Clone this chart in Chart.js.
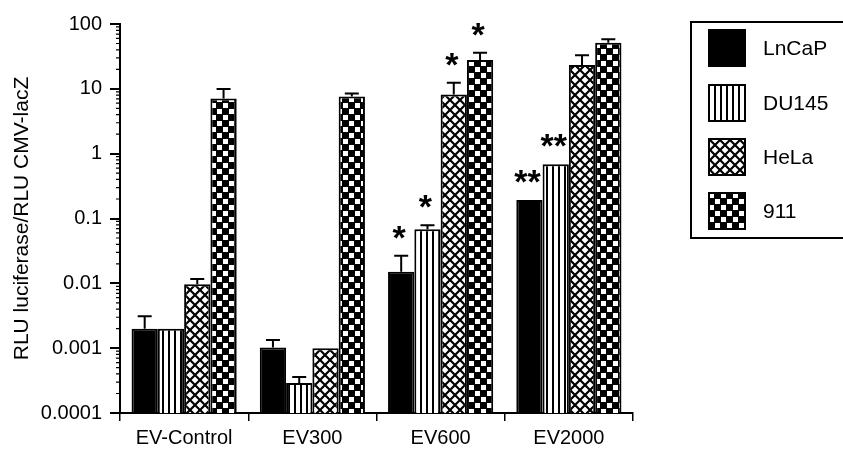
<!DOCTYPE html>
<html><head><meta charset="utf-8">
<script src="https://cdn.jsdelivr.net/npm/chart.js@4.4.1/dist/chart.umd.min.js"></script>
<style>html,body{margin:0;padding:0;background:#fff;} canvas{display:block;}</style>
</head><body>
<canvas id="c" width="843" height="450"></canvas>
<script>
// ---- data ----
const categories = ['EV-Control', 'EV300', 'EV600', 'EV2000'];
const seriesNames = ['LnCaP', 'DU145', 'HeLa', '911'];
const lncap = [0.002, 0.00102, 0.0151, 0.193];
const du145 = [0.002, 0.00029, 0.068, 0.685];
const hela  = [0.0097, 0.001, 8.2, 23.3];
const c911  = [7.1, 7.6, 27.8, 51.5];
const lncapErrTop = [0.0031, 0.00134, 0.0267, 0.193];
const du145ErrTop = [0.002, 0.00036, 0.0785, 0.685];
const helaErrTop  = [0.0117, 0.001, 12.4, 33];
const c911ErrTop  = [9.9, 8.5, 36, 58];
const lncapStars = ['', '', '*', '**'];
const du145Stars = ['', '', '*', '**'];
const helaStars  = ['', '', '*', ''];
const c911Stars  = ['', '', '*', ''];
const yTickValues = [0.0001, 0.001, 0.01, 0.1, 1, 10, 100];
const yTickLabels = ['0.0001', '0.001', '0.01', '0.1', '1', '10', '100'];
const yTitle = 'RLU luciferase/RLU CMV-lacZ';

const FONT = '"Liberation Sans", Arial, sans-serif';

// ---- patterns ----
function makePattern(w, h, draw) {
  const cv = document.createElement('canvas');
  cv.width = w; cv.height = h;
  const g = cv.getContext('2d');
  draw(g, w, h);
  return g.createPattern(cv, 'repeat');
}
const solid = '#000000';
const stripes = makePattern(6, 6, (g, w, h) => {
  g.fillStyle = '#fff'; g.fillRect(0, 0, w, h);
  g.fillStyle = '#000'; g.fillRect(0, 0, 2, h);
});
const hatch = makePattern(10, 10, (g, w, h) => {
  g.fillStyle = '#fff'; g.fillRect(0, 0, w, h);
  g.strokeStyle = '#000'; g.lineWidth = 2.2;
  g.beginPath();
  g.moveTo(-2, -2); g.lineTo(w + 2, h + 2);
  g.moveTo(w + 2, -2); g.lineTo(-2, h + 2);
  g.stroke();
});
const checker = makePattern(12, 12, (g, w, h) => {
  g.fillStyle = '#000'; g.fillRect(0, 0, w, h);
  g.fillStyle = '#fff';
  g.fillRect(1, 1, 5, 5);
  g.fillRect(7, 7, 5, 5);
});
const fills = [solid, stripes, hatch, checker];
const seriesValues = [lncap, du145, hela, c911];
const seriesErrTop = [lncapErrTop, du145ErrTop, helaErrTop, c911ErrTop];
const seriesStars = [lncapStars, du145Stars, helaStars, c911Stars];

// ---- plugin: error bars, stars, minor ticks, legend ----
const extras = {
  id: 'extras',
  afterDatasetsDraw(chart) {
    const ctx = chart.ctx;
    const ys = chart.scales.y;
    ctx.save();
    ctx.strokeStyle = '#000';
    ctx.fillStyle = '#000';
    ctx.lineWidth = 2;
    chart.data.datasets.forEach((ds, i) => {
      const meta = chart.getDatasetMeta(i);
      meta.data.forEach((el, j) => {
        const top = seriesErrTop[i][j];
        const yTop = ys.getPixelForValue(top);
        if (top > ds.data[j] && el.y - yTop > 1) {
          ctx.beginPath();
          ctx.moveTo(el.x, el.y);
          ctx.lineTo(el.x, yTop);
          ctx.moveTo(el.x - 7, yTop);
          ctx.lineTo(el.x + 7, yTop);
          ctx.stroke();
        }
        const s = seriesStars[i][j];
        if (s) {
          ctx.font = 'bold 34px ' + FONT;
          ctx.textAlign = 'center';
          ctx.textBaseline = 'alphabetic';
          ctx.fillText(s, el.x - 2, Math.min(yTop, el.y) - 7);
        }
      });
    });
    // minor ticks on y axis
    const ax = chart.chartArea.left;
    ctx.lineWidth = 1.2;
    ctx.beginPath();
    for (let d = -4; d < 2; d++) {
      for (let k = 2; k <= 9; k++) {
        const y = ys.getPixelForValue(k * Math.pow(10, d));
        ctx.moveTo(ax - 4, y);
        ctx.lineTo(ax + 1, y);
      }
    }
    ctx.stroke();
    // legend (box runs off the right edge)
    ctx.lineWidth = 2;
    ctx.beginPath();
    ctx.moveTo(845, 22); ctx.lineTo(691, 22); ctx.lineTo(691, 238); ctx.lineTo(845, 238);
    ctx.stroke();
    const sy = [29, 84, 138, 192];
    seriesNames.forEach((n, i) => {
      ctx.fillStyle = fills[i];
      ctx.fillRect(708, sy[i], 38, 38);
      ctx.strokeStyle = '#000';
      ctx.lineWidth = 2;
      ctx.strokeRect(709, sy[i] + 1, 36, 36);
      ctx.fillStyle = '#000';
      ctx.font = '21px ' + FONT;
      ctx.textAlign = 'left';
      ctx.textBaseline = 'middle';
      ctx.fillText(n, 763, sy[i] + 20);
    });
    ctx.restore();
  }
};

new Chart(document.getElementById('c'), {
  type: 'bar',
  data: {
    labels: categories,
    datasets: seriesNames.map((n, i) => ({
      label: n,
      data: seriesValues[i],
      backgroundColor: fills[i],
      borderColor: '#000',
      borderWidth: 2,
      borderSkipped: 'start'
    }))
  },
  options: {
    responsive: false,
    devicePixelRatio: 1,
    animation: false,
    events: [],
    categoryPercentage: 0.82,
    barPercentage: 1.0,
    layout: { padding: { left: 0, top: 24, right: 210, bottom: 0 } },
    plugins: { legend: { display: false }, tooltip: { enabled: false } },
    scales: {
      x: {
        type: 'category',
        offset: true,
        grid: { offset: true, drawOnChartArea: false, drawTicks: true, tickLength: 8, color: '#000', lineWidth: 1.5 },
        border: { display: true, color: '#000', width: 2 },
        ticks: { color: '#000', font: { family: FONT, size: 20 }, padding: 5, maxRotation: 0 },
        afterFit(s) { s.height = 37; }
      },
      y: {
        type: 'logarithmic',
        min: 0.0001,
        max: 100,
        afterBuildTicks(s) { s.ticks = yTickValues.map(v => ({ value: v })); },
        grid: { drawOnChartArea: false, drawTicks: true, tickLength: 10, color: '#000', lineWidth: 2 },
        border: { display: true, color: '#000', width: 2 },
        ticks: {
          color: '#000', font: { family: FONT, size: 20 }, padding: 8, autoSkip: false,
          callback: (v, i) => yTickLabels[i]
        },
        title: { display: true, text: yTitle, color: '#000', font: { family: FONT, size: 21 }, padding: { top: 10, bottom: 0 } },
        afterFit(s) { s.width = 120; }
      }
    }
  },
  plugins: [extras]
});
</script>
</body></html>
